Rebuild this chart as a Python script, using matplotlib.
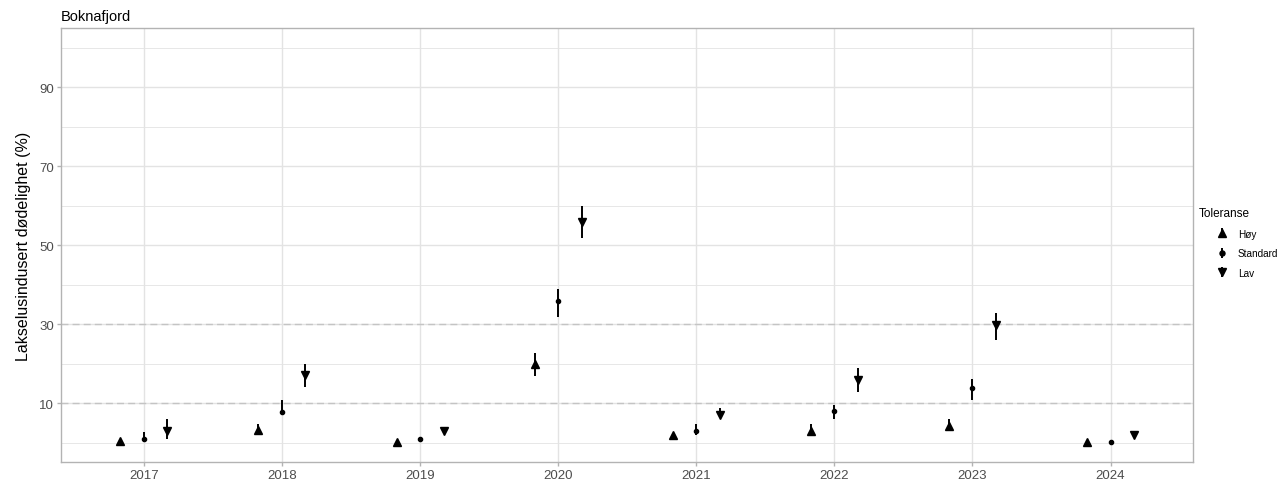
import numpy as np
import matplotlib
matplotlib.use("Agg")
import matplotlib.pyplot as plt

# Lakselusindusert dødelighet per år og toleransegruppe
years = [2017, 2018, 2019, 2020, 2021, 2022, 2023, 2024]
groups = ["Høy", "Standard", "Lav"]

hoy = [0.3, 3.1, 0.2, 19.8, 1.8, 3.0, 4.1, 0.2]
hoy_lo = [0.0, 1.8, 0.0, 16.9, 1.3, 1.8, 3.0, 0.0]
hoy_hi = [0.8, 4.8, 0.7, 22.8, 2.5, 4.8, 5.9, 0.7]

std = [0.9, 7.8, 1.0, 35.9, 2.9, 7.9, 13.9, 0.1]
std_lo = [0.2, 7.2, 0.4, 31.8, 2.0, 5.9, 10.9, 0.0]
std_hi = [2.8, 10.8, 1.4, 38.8, 4.8, 9.6, 16.0, 0.5]

lav = [3.0, 17.0, 3.0, 55.9, 6.9, 15.8, 29.7, 1.9]
lav_lo = [1.0, 14.1, 2.4, 51.9, 6.2, 12.8, 25.9, 1.5]
lav_hi = [5.9, 19.8, 3.8, 59.9, 8.8, 19.0, 32.9, 2.5]

y_ticks = [10, 30, 50, 70, 90]
terskler = [10, 30]

plt.rcParams["font.family"] = ["Liberation Sans", "DejaVu Sans"]

fig = plt.figure(figsize=(12.86, 4.81), dpi=100)
ax = fig.add_axes([0.0474, 0.0368, 0.8806, 0.9029])

grid_col = "#E3E3E3"
border_col = "#B3B3B3"

ax.set_xlim(2016.4, 2024.6)
ax.set_ylim(-5, 105)

# rutenett: hovedlinjer og hjelpelinjer
ax.set_yticks(y_ticks)
ax.set_yticks([0, 20, 40, 60, 80, 100], minor=True)
ax.set_xticks(years)
ax.grid(which="major", color=grid_col, lw=1.0)
ax.grid(which="minor", axis="y", color=grid_col, lw=0.6)
ax.set_axisbelow(True)

for t in terskler:
    ax.axhline(t, color="#C4C4C4", lw=1.0, ls=(0, (5, 3)), zorder=1)

dodge = 0.17
serier = [
    (hoy, hoy_lo, hoy_hi, -dodge, "^", 5.2),
    (std, std_lo, std_hi, 0.0, "o", 3.0),
    (lav, lav_lo, lav_hi, dodge, "v", 5.2),
]
handles = []
for navn, (v, lo, hi, off, mk, ms) in zip(groups, serier):
    v = np.array(v)
    err = [v - np.array(lo), np.array(hi) - v]
    h = ax.errorbar(np.array(years) + off, v, yerr=err, fmt=mk, ms=ms,
                    color="black", ecolor="black", elinewidth=1.4,
                    capsize=0, zorder=3, label=navn)
    handles.append(h)

for s in ax.spines.values():
    s.set_color(border_col)
    s.set_linewidth(1.0)

ax.tick_params(axis="both", which="major", length=3, width=1.0,
               color=border_col, labelsize=9.5, labelcolor="#4D4D4D", pad=2)
ax.tick_params(axis="both", which="minor", length=0)

ax.set_ylabel("Lakselusindusert dødelighet (%)", fontsize=11.5, labelpad=6)
ax.set_title("Boknafjord", loc="left", fontsize=10.5, pad=6)

# legende: tittel for seg, nøklene litt innrykket
fig.text(0.9318, 0.555, "Toleranse", fontsize=8.5, ha="left", va="center")
leg = fig.legend(handles=handles, labels=groups,
                 loc="upper left", bbox_to_anchor=(0.9425, 0.522),
                 frameon=False, fontsize=7.2, borderpad=0, borderaxespad=0,
                 handlelength=2.0, handletextpad=0.6, labelspacing=0.95,
                 markerscale=1.2)

fig.savefig("out.png", dpi=100)
